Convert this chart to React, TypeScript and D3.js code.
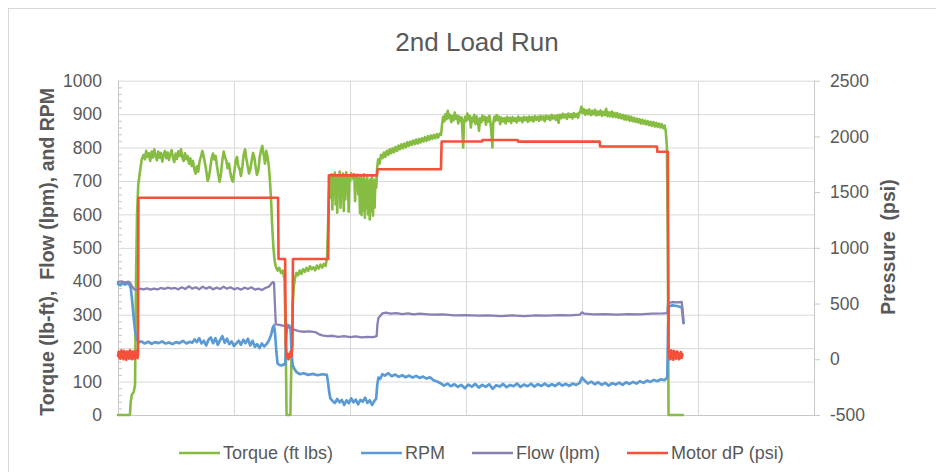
import * as d3 from 'd3'

// chart text
const title = '2nd Load Run'
const leftTitle = 'Torque (lb-ft),  Flow (lpm), and RPM'
const rightTitle = 'Pressure  (psi)'

// axis ticks
const leftTicks = [0, 100, 200, 300, 400, 500, 600, 700, 800, 900, 1000]
const rightTicks = [-500, 0, 500, 1000, 1500, 2000, 2500]
const timeGrid = [0, 100, 200, 300, 400, 500, 600]

// series as [time, value]; time runs 0..600 across the plot
const torque: [number, number][] = [
  [0, 0], [10.3, 0], [11, 40], [12, 62], [13.5, 68], [14.7, 90], [15.5, 400], [16.4, 600], [17.5, 690], [19, 730], [20.5, 765],
  [22, 778], [23.2, 765], [24.3, 790], [25.5, 772], [26.6, 783], [27.8, 760], [29, 788], [30.1, 770], [31.3, 795], [32.4, 775],
  [33.6, 762], [34.7, 788], [35.9, 770], [37, 784], [38.2, 758], [39.3, 779], [40.5, 790], [41.6, 768], [42.8, 785], [43.9, 763],
  [45.1, 780], [46.2, 792], [47.4, 770], [48.5, 757], [49.7, 782], [50.8, 766], [52, 789], [53.1, 775], [54.3, 795], [55.4, 771],
  [56.6, 760], [57.7, 783], [58.9, 765], [60, 775], [61.2, 752], [62.3, 768], [63.5, 745], [64.6, 760], [65.8, 735], [66.9, 722],
  [68.1, 745], [69.2, 728], [70.4, 760], [71.5, 772], [72.7, 790], [73.8, 775], [75, 752], [76.1, 730], [77.3, 700], [78.4, 712],
  [79.6, 740], [80.7, 768], [81.9, 782], [83, 764], [84.2, 775], [85.3, 745], [86.5, 718], [87.6, 698], [88.8, 722], [89.9, 760],
  [91.1, 788], [92.2, 772], [93.4, 760], [94.5, 738], [95.7, 752], [96.8, 725], [98, 705], [99.1, 698], [100.3, 728], [101.4, 760],
  [102.6, 772], [103.7, 745], [104.9, 735], [106, 715], [107.2, 742], [108.3, 778], [109.5, 795], [110.6, 768], [111.8, 745], [112.9, 722],
  [114.1, 735], [115.2, 760], [116.4, 784], [117.5, 772], [118.7, 740], [119.8, 718], [121, 732], [122.1, 770], [123.3, 792], [124.4, 805],
  [125.6, 778], [126.7, 752], [127.9, 790], [129, 770], [130, 745], [131, 700], [132, 640], [133, 560], [134, 500], [135, 462],
  [136, 445], [137.5, 432], [139, 440], [140.5, 425], [142, 432], [143.5, 405], [144.5, 250], [145.3, 0], [148.6, 0], [149.6, 180],
  [150.6, 330], [151.6, 385], [152.6, 410], [153.8, 425], [155.2, 418], [156.6, 432], [158, 422], [159.5, 436], [161, 428], [162.5, 440],
  [164, 431], [165.5, 445], [167, 436], [168.5, 442], [170, 433], [171.5, 447], [173, 438], [174.5, 450], [176, 441], [177.5, 452],
  [179, 446], [180.2, 470], [181, 560], [181.8, 660], [182.6, 708],
  [183.4, 650], [184.1, 720], [184.8, 615], [185.5, 712], [186.2, 690], [186.9, 725], [187.6, 630], [188.3, 708], [189, 605], [189.7, 715],
  [190.4, 668], [191.1, 728], [191.8, 620], [192.5, 705], [193.2, 700], [193.9, 722], [194.6, 610], [195.3, 712], [196, 645], [196.7, 726],
  [197.4, 688], [198.1, 717], [198.8, 608], [199.5, 710], [200.2, 700], [200.9, 723], [201.6, 712], [202.3, 718], [203, 705], [203.7, 721],
  [204.4, 640], [205.1, 712], [205.8, 702], [206.5, 719], [207.2, 660], [207.9, 708], [208.6, 604], [209.3, 715], [210, 598], [210.7, 706],
  [211.4, 612], [212.1, 720], [212.8, 590], [213.5, 702], [214.2, 618], [214.9, 710], [215.6, 600], [216.3, 698], [217, 585], [217.7, 706],
  [218.4, 610], [219.1, 712], [219.8, 596], [220.5, 700], [221.2, 620], [221.9, 705], [222.6, 680],
  [223.4, 740], [224.3, 765], [225.5, 752], [226.7, 778], [228, 768], [229.2, 785], [230.4, 772], [231.7, 790], [233, 778], [234.2, 795],
  [235.5, 783], [236.8, 798], [238, 786], [239.3, 802], [240.6, 790], [241.8, 806], [243.1, 795], [244.4, 810], [245.6, 798], [246.9, 812],
  [248.2, 801], [249.4, 816], [250.7, 805], [252, 818], [253.2, 808], [254.5, 821], [255.8, 810], [257, 824], [258.3, 812], [259.6, 826],
  [260.8, 815], [262.1, 828], [263.4, 818], [264.6, 831], [265.9, 820], [267.2, 834], [268.4, 823], [269.7, 836], [271, 826], [272.2, 838],
  [273.5, 828], [274.8, 840], [276, 830], [277.3, 842], [278.5, 838], [279.4, 870], [280.3, 892],
  [281.3, 878], [282.3, 900], [283.3, 885], [284.3, 910], [285.3, 888], [286.3, 898], [287.3, 876], [288.3, 895], [289.3, 882], [290.3, 905],
  [291.3, 886], [292.3, 896], [293.3, 872], [294.3, 893], [295.3, 880], [296.3, 890], [297, 840], [297.6, 800], [298.2, 872], [299.2, 892],
  [300.2, 880], [301.2, 902], [302.2, 884], [303.2, 895], [304.2, 860], [305.2, 890], [306.2, 878], [307.2, 898], [308.2, 870], [309.2, 893],
  [310.2, 880], [311.2, 850], [312.2, 888], [313.2, 876], [314.2, 896], [315.2, 882], [316.2, 892], [317.2, 868], [318.2, 890], [319.2, 878],
  [320.2, 895], [321.2, 872], [322.2, 830], [322.8, 800], [323.4, 870], [324.4, 892], [325.4, 880], [326.4, 897], [327.4, 883], [328.4, 893],
  [329.4, 870], [330.6, 890], [331.8, 878], [333, 888], [334.2, 872], [335.4, 892], [336.6, 879], [337.8, 889], [339, 874], [340.2, 891],
  [341.4, 880], [342.6, 888], [343.8, 875], [345, 893], [346.2, 881], [347.4, 889], [348.6, 876], [349.8, 892], [351, 882], [352.2, 890],
  [353.4, 877], [354.6, 893], [355.8, 881], [357, 891], [358.2, 878], [359.4, 894], [360.6, 883], [361.8, 892], [363, 880], [364.2, 895],
  [365.4, 884], [366.6, 893], [367.8, 879], [369, 896], [370.2, 885], [371.4, 894], [372.6, 882], [373.8, 898], [375, 887], [376.2, 895],
  [377.4, 883], [378.6, 897], [379.8, 874], [381, 898], [382.2, 888], [383.4, 901], [384.6, 890], [385.8, 899], [387, 886], [388.2, 902],
  [389.4, 891], [390.6, 900], [391.8, 887], [393, 903], [394.2, 892], [395.4, 901], [396.6, 889], [397.6, 904],
  [398.4, 905], [399.4, 922], [400.4, 903], [401.6, 915], [402.8, 898], [404, 912], [405.2, 900], [406.4, 914], [407.6, 897], [408.8, 910],
  [410, 899], [411.2, 913], [412.4, 896], [413.6, 908], [414.8, 898], [416, 911], [417.2, 895], [418.4, 907], [419.6, 897], [420.8, 916],
  [422, 894], [423.2, 905], [424.4, 893], [425.6, 908], [426.8, 892], [428, 904], [429.2, 891], [430.4, 903], [431.6, 889], [432.8, 900],
  [434, 887], [435.2, 898], [436.4, 884], [437.6, 896], [438.8, 883], [440, 894], [441.2, 880], [442.4, 892], [443.6, 879], [444.8, 889],
  [446, 877], [447.2, 887], [448.4, 875], [449.6, 885], [450.8, 872], [452, 883], [453.2, 871], [454.4, 881], [455.6, 869], [456.8, 879],
  [458, 867], [459.2, 877], [460.4, 865], [461.6, 876], [462.8, 863], [464, 874], [465.2, 862], [466.4, 872], [467.6, 860], [468.8, 870],
  [470, 858], [471.2, 866], [472.2, 850], [473.2, 800], [474, 500], [474.6, 0], [487, 0],
]

const rpm: [number, number][] = [
  [0, 392], [2, 388], [4, 395], [6, 390], [8, 394], [10, 389], [11, 380], [12, 350], [13, 310], [14, 275], [15, 245], [16.5, 225],
  [18, 218], [20, 220], [23, 214], [26, 219], [29, 213], [32, 218], [35, 215], [38, 220], [41, 214], [44, 217], [47, 212], [50, 218],
  [53, 215], [56, 222], [59, 214], [62, 219], [64, 216], [66, 226], [68, 218], [70, 230], [72, 214], [74, 222], [76, 208], [78, 225],
  [80, 232], [82, 215], [84, 230], [86, 210], [88, 224], [90, 236], [92, 216], [94, 228], [96, 212], [98, 220], [100, 206], [102, 214],
  [104, 222], [106, 210], [108, 225], [110, 215], [112, 228], [114, 208], [116, 222], [118, 204], [120, 212], [122, 200], [124, 214],
  [126, 205], [128, 212], [130, 222], [132, 240], [133.5, 262], [134.5, 268], [135.5, 240], [136.5, 190], [137.5, 155], [139, 150],
  [141, 148], [143, 152], [144.2, 150], [145, 230], [145.8, 270], [147.5, 268], [148.8, 260], [149.6, 190], [150.5, 150], [152, 138],
  [154, 128], [157, 122], [160, 125], [164, 120], [168, 123], [172, 119], [176, 122], [180, 120], [181, 100], [182, 70], [183, 50],
  [185, 42], [187, 36], [189, 48], [191, 38], [193, 45], [195, 30], [197, 44], [199, 35], [201, 50], [203, 38], [205, 46], [207, 32],
  [209, 45], [211, 40], [213, 52], [215, 36], [217, 44], [219, 30], [221, 42], [222.5, 48], [223.5, 90], [224.5, 112], [226, 108],
  [228, 122], [230, 118], [233, 125], [236, 116], [239, 121], [242, 114], [245, 119], [248, 113], [251, 118], [254, 112], [257, 117],
  [260, 111], [263, 115], [266, 109], [269, 113], [272, 104], [275, 100], [278, 95], [281, 88], [284, 94], [287, 86], [290, 92],
  [293, 84], [296, 90], [299, 80], [302, 91], [305, 85], [308, 93], [311, 82], [314, 90], [317, 84], [320, 92], [323, 78], [326, 89],
  [329, 85], [332, 93], [335, 83], [338, 90], [341, 86], [344, 94], [347, 84], [350, 91], [353, 86], [356, 93], [359, 85], [362, 92],
  [365, 87], [368, 94], [371, 86], [374, 92], [377, 87], [380, 95], [383, 88], [386, 93], [389, 87], [392, 94], [395, 90], [398, 96],
  [400, 112], [402, 104], [405, 94], [408, 100], [411, 92], [414, 98], [417, 90], [420, 96], [423, 88], [426, 95], [429, 91], [432, 97],
  [435, 90], [438, 98], [441, 93], [444, 99], [447, 94], [450, 101], [453, 96], [456, 103], [459, 99], [462, 105], [465, 101], [468, 107],
  [471, 104], [473.5, 112], [474.2, 250], [474.8, 325], [478, 328], [482, 326], [486, 322], [486.8, 300], [487.5, 275],
]

const flow: [number, number][] = [
  [0, 398], [3, 400], [6, 397], [9, 399], [10.5, 395], [12, 385], [14, 376], [16, 374], [19, 378], [22, 376], [25, 379], [28, 375],
  [31, 378], [34, 376], [37, 380], [40, 377], [43, 381], [46, 378], [49, 380], [52, 376], [55, 382], [58, 377], [61, 385], [64, 378],
  [67, 382], [70, 376], [73, 384], [76, 378], [79, 383], [82, 376], [85, 381], [88, 377], [91, 384], [94, 378], [97, 382], [100, 376],
  [103, 380], [106, 375], [109, 381], [112, 377], [115, 382], [118, 375], [121, 378], [124, 374], [127, 380], [130, 384], [132, 392],
  [133.5, 398], [134.5, 395], [135.3, 330], [136, 272], [138, 270], [141, 268], [144, 266], [147, 262], [150, 258], [153, 254],
  [156, 251], [160, 249], [165, 250], [170, 248], [173, 242], [176, 238], [180, 236], [185, 237], [190, 234], [195, 236], [200, 233],
  [205, 235], [210, 232], [215, 234], [220, 233], [223, 236], [223.6, 270], [224.5, 290], [226, 296], [228, 304], [231, 306], [235, 303],
  [240, 305], [245, 302], [250, 304], [255, 301], [260, 303], [270, 300], [280, 301], [290, 298], [300, 299], [310, 297], [320, 298],
  [330, 296], [340, 298], [350, 296], [360, 298], [370, 297], [380, 299], [390, 298], [398, 300], [400, 307], [402, 303], [410, 301],
  [420, 302], [430, 300], [440, 302], [450, 301], [460, 303], [470, 304], [473.5, 305], [474.2, 335], [478, 338], [482, 337], [486, 338],
  [486.8, 310], [487.5, 275],
]

const motorDp: [number, number][] = [
  [0, 30], [0.6, 70], [1.2, 10], [1.8, 55], [2.4, 5], [3, 80], [3.6, 20], [4.2, 60], [4.8, 0], [5.4, 75], [6, 15], [6.6, 50], [7.2, -5],
  [7.8, 70], [8.4, 25], [9, 65], [9.6, 5], [10.2, 80], [10.8, 10], [11.4, 55], [12, 0], [12.6, 72], [13.2, 18], [13.8, 62], [14.4, 2],
  [15, 68], [15.6, 20], [16.2, 75], [16.8, 10], [17.3, 40], [17.6, 1450], [138, 1450], [138.4, 900], [144.1, 900], [144.6, 150],
  [145.2, 60], [145.8, 10], [146.4, 50], [147, 0], [147.6, 40], [148.2, 20], [148.8, 70], [149.6, 30], [150.4, 120], [150.8, 900],
  [181.2, 900], [181.8, 1650], [223.2, 1650], [223.8, 1705], [278.4, 1705], [279, 1955], [313.8, 1955], [314.2, 1968], [344.6, 1968],
  [345, 1953], [415.2, 1953], [415.6, 1910], [464.6, 1910], [465, 1862], [474, 1862], [474.6, 60], [475.2, 10], [475.8, 70], [476.4, 0],
  [477, 80], [477.6, 15], [478.2, 65], [478.8, -5], [479.4, 75], [480, 20], [480.6, 55], [481.2, 5], [481.8, 70], [482.4, 25], [483, 60],
  [483.6, 0], [484.2, 50], [484.8, 10], [485.4, 65], [486, 15], [486.6, 45],
]

const series = [
  { name: 'Torque (ft lbs)', color: '#86bc41', data: torque, axis: 'left', width: 2.6, legendX: 179 },
  { name: 'RPM', color: '#5b9bd5', data: rpm, axis: 'left', width: 2.7, legendX: 361 },
  { name: 'Flow (lpm)', color: '#8a80b2', data: flow, axis: 'left', width: 2.3, legendX: 472 },
  { name: 'Motor dP (psi)', color: '#f4503a', data: motorDp, axis: 'right', width: 2.6, legendX: 627 },
]

const W = 936
const H = 472
const plot = { left: 118, right: 814, top: 80.7, bottom: 415 }
const font = '"Liberation Sans", Arial, sans-serif'
const textColor = '#595959'
const gridColor = '#d9d9d9'

export default function App() {
  const x = d3.scaleLinear().domain([0, 600]).range([plot.left, plot.right])
  const yL = d3.scaleLinear().domain([0, 1000]).range([plot.bottom, plot.top])
  const yR = d3.scaleLinear().domain([-500, 2500]).range([plot.bottom, plot.top])
  const minorTicks = d3.range(0, 1001, 20).filter((v) => v % 100 !== 0)

  return (
    <>
      <style>{'body{margin:0}'}</style>
      <svg width={W} height={H} style={{ display: 'block', background: '#fff' }} fontFamily={font}>
        <rect x={8.5} y={8.5} width={W + 20} height={H + 20} fill="#fff" stroke={gridColor} />
        <text x={477} y={42} dy="0.35em" textAnchor="middle" fontSize={26} fill={textColor}>{title}</text>

        {leftTicks.map((t) => (
          <line key={'h' + t} x1={plot.left} x2={plot.right} y1={yL(t) + 0.5} y2={yL(t) + 0.5} stroke={gridColor} />
        ))}
        {timeGrid.map((t) => (
          <line key={'v' + t} x1={Math.round(x(t)) + 0.5} x2={Math.round(x(t)) + 0.5} y1={plot.top} y2={plot.bottom} stroke={gridColor} />
        ))}
        {minorTicks.map((t) => (
          <line key={'m' + t} x1={plot.left} x2={plot.left + 4} y1={yL(t) + 0.5} y2={yL(t) + 0.5} stroke="#c8c8c8" />
        ))}
        <line x1={plot.left + 0.5} x2={plot.left + 0.5} y1={plot.top} y2={plot.bottom} stroke="#c8c8c8" />
        <line x1={plot.left} x2={plot.right} y1={plot.bottom + 0.5} y2={plot.bottom + 0.5} stroke="#c8c8c8" />
        <line x1={plot.right + 0.5} x2={plot.right + 0.5} y1={plot.top} y2={plot.bottom} stroke="#c8c8c8" />
        {rightTicks.map((t) => (
          <line key={'r' + t} x1={plot.right} x2={plot.right + 6} y1={yR(t) + 0.5} y2={yR(t) + 0.5} stroke="#c8c8c8" />
        ))}

        {leftTicks.map((t) => (
          <text key={'lt' + t} x={102} y={yL(t)} dy="0.35em" textAnchor="end" fontSize={17.5} fill={textColor}>{t}</text>
        ))}
        {rightTicks.map((t) => (
          <text key={'rt' + t} x={830} y={yR(t)} dy="0.35em" textAnchor="start" fontSize={17.5} fill={textColor}>{t}</text>
        ))}

        <text transform={`translate(47,${(plot.top + plot.bottom) / 2 + 4}) rotate(-90)`} dy="0.35em" textAnchor="middle"
          fontSize={19.5} fontWeight="bold" fill={textColor} style={{ whiteSpace: 'pre' }}>{leftTitle}</text>
        <text transform={`translate(888,247) rotate(-90)`} dy="0.35em" textAnchor="middle"
          fontSize={19.5} fontWeight="bold" fill={textColor} style={{ whiteSpace: 'pre' }}>{rightTitle}</text>

        {series.map((s) => {
          const y = s.axis === 'left' ? yL : yR
          const line = d3.line<[number, number]>().x((d) => x(d[0])).y((d) => y(d[1]))
          return (
            <path key={s.name} d={line(s.data) ?? ''} fill="none" stroke={s.color} strokeWidth={s.width}
              strokeLinejoin="round" strokeLinecap="round" />
          )
        })}

        {series.map((s) => (
          <g key={'lg' + s.name}>
            <line x1={s.legendX} x2={s.legendX + 41} y1={453} y2={453} stroke={s.color} strokeWidth={2.5} />
            <text x={s.legendX + 44} y={453} dy="0.35em" fontSize={18} fill={textColor}>{s.name}</text>
          </g>
        ))}
      </svg>
    </>
  )
}
